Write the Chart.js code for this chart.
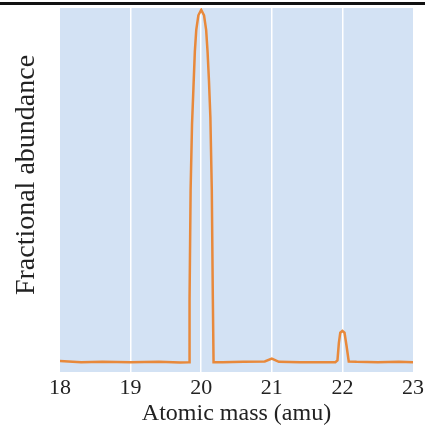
<!DOCTYPE html>
<html><head><meta charset="utf-8">
<script src="https://cdn.jsdelivr.net/npm/chart.js@4/dist/chart.umd.min.js"></script>
<style>html,body{margin:0;padding:0;background:#fff}#wrap{width:425px;height:432px}</style>
</head><body><div id="wrap"><canvas id="c" width="425" height="432"></canvas></div>
<script>
const massX = [18.0,18.3,18.6,19.0,19.4,19.7,19.82,19.83,19.835,19.85,19.87,19.89,19.91,19.93,19.96,20.0,20.04,20.07,20.09,20.11,20.13,20.15,20.165,20.175,20.3,20.6,20.9,21.0,21.1,21.4,21.7,21.9,21.93,21.95,21.97,22.0,22.03,22.06,22.09,22.2,22.5,22.8,23.0];
const abundance = [3.0,2.7,2.8,2.7,2.8,2.6,2.7,2.7,20,50,68,78,88,94,98,99.5,98,94,88,80,70,50,20,2.7,2.7,2.8,2.9,3.7,2.8,2.7,2.7,2.7,3.2,8,10.8,11.3,10.8,7,2.9,2.8,2.7,2.8,2.7];
const xTicks = [18,19,20,21,22,23];
const xTitle = 'Atomic mass (amu)';
const yTitle = 'Fractional abundance';

const serif = "'Liberation Serif','DejaVu Serif',serif";
const bgPlugin = {
  id:'bg',
  beforeDraw(chart){
    const {ctx, chartArea:a} = chart;
    ctx.save();
    ctx.fillStyle = '#d3e2f4';
    ctx.fillRect(a.left, a.top, a.right-a.left, a.bottom-a.top);
    ctx.fillStyle = '#111';
    ctx.fillRect(0, 2, chart.width, 3);
    ctx.restore();
  },
  afterDraw(chart){
    const {ctx, chartArea:a} = chart;
    ctx.save();
    ctx.translate(a.left - 33, a.top + (a.bottom - a.top) / 2 - 15);
    ctx.rotate(-Math.PI/2);
    ctx.font = "28px " + serif;
    ctx.fillStyle = '#222';
    ctx.textAlign = 'center';
    ctx.textBaseline = 'middle';
    ctx.fillText(yTitle, 0, 0);
    ctx.restore();
  }
};
new Chart(document.getElementById('c'), {
  type:'line',
  data:{datasets:[{data: massX.map((x,i)=>({x, y: abundance[i]})), borderColor:'#e8893b', borderWidth:2.5, pointRadius:0, tension:0, fill:false}]},
  options:{
    responsive:false, animation:false,
    layout:{padding:{top:8,right:12,left:0,bottom:0}},
    plugins:{legend:{display:false}, tooltip:{enabled:false}},
    scales:{
      x:{type:'linear', min:18, max:23, afterBuildTicks(ax){ax.ticks = xTicks.map(v=>({value:v}));},
        afterFit(ax){ax.height = 60; ax.paddingRight = 0; ax.paddingLeft = 0;},
        border:{display:false},
        grid:{color:(c)=> (c.tick && (c.tick.value===18||c.tick.value===23)) ? 'rgba(0,0,0,0)' : '#ffffff', lineWidth:1.5, drawTicks:false},
        ticks:{color:'#222', font:{family:serif, size:22}, padding:3, maxRotation:0, callback:v=>String(v)},
        title:{display:true, text:xTitle, color:'#222', font:{family:serif, size:24}, padding:{top:0,bottom:4}}
      },
      y:{min:0, max:100, afterFit(ax){ax.width = 60;},
        border:{display:false}, grid:{display:false},
        ticks:{display:false},
        title:{display:false}
      }
    }
  },
  plugins:[bgPlugin]
});
</script></body></html>
